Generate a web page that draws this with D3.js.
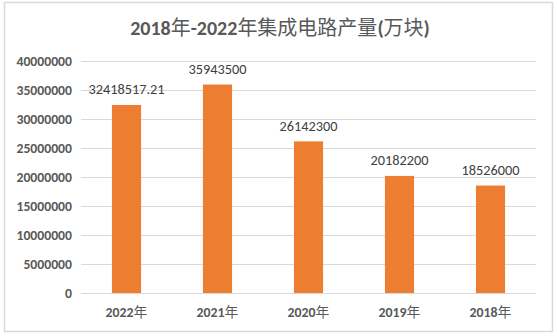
<!DOCTYPE html>
<html>
<head>
<meta charset="utf-8">
<script src="https://cdn.jsdelivr.net/npm/d3@7"></script>
<style>
  html, body { margin: 0; padding: 0; background: #ffffff; }
  svg { display: block; }
</style>
</head>
<body>
<svg id="chart" width="557" height="336"></svg>
<script>
// 集成电路产量 (万块), 2022 → 2018
const years = ["2022年", "2021年", "2020年", "2019年", "2018年"];
const output = [32418517.21, 35943500, 26142300, 20182200, 18526000];
const valueLabels = ["32418517.21", "35943500", "26142300", "20182200", "18526000"];
const yTicks = [0, 5000000, 10000000, 15000000, 20000000, 25000000, 30000000, 35000000, 40000000];
const titleText = "2018年-2022年集成电路产量(万块)";

const W = 557, H = 336;
const margin = { left: 81, right: 21, top: 61, bottom: 43 };
const svg = d3.select("#chart");
const fontStack = "Calibri, Carlito, 'Noto Sans CJK SC', 'Noto Sans', sans-serif";

// Latin runs bold, Han characters at regular weight
function mixedRuns(sel, str) {
  sel.text(null);
  const runs = str.match(/[\u4e00-\u9fff]+|[^\u4e00-\u9fff]+/g) || [];
  runs.forEach(r => {
    sel.append("tspan")
      .style("font-weight", /[\u4e00-\u9fff]/.test(r) ? "normal" : "bold")
      .text(r);
  });
}

// outer chart frame
svg.append("rect")
  .attr("x", 4.5).attr("y", 2.5)
  .attr("width", 548).attr("height", 329)
  .attr("fill", "#ffffff")
  .attr("stroke", "#d9d9d9")
  .attr("stroke-width", 1.5);

const x = d3.scaleBand()
  .domain(years)
  .range([margin.left, W - margin.right])
  .paddingInner(0.68)
  .paddingOuter(0.34);

const y = d3.scaleLinear()
  .domain([0, 40000000])
  .range([H - margin.bottom, margin.top]);

// horizontal gridlines
svg.append("g")
  .selectAll("line")
  .data(yTicks)
  .join("line")
  .attr("x1", margin.left)
  .attr("x2", W - margin.right)
  .attr("y1", d => Math.round(y(d)) + 0.5)
  .attr("y2", d => Math.round(y(d)) + 0.5)
  .attr("stroke", "#d9d9d9")
  .attr("stroke-width", 1);

// y axis labels
const yAxis = d3.axisLeft(y)
  .tickValues(yTicks)
  .tickFormat(d => String(d))
  .tickSize(0)
  .tickPadding(9);
const gy = svg.append("g")
  .attr("transform", `translate(${margin.left},0)`)
  .call(yAxis);
gy.select(".domain").remove();
gy.selectAll("text")
  .attr("fill", "#595959")
  .style("font-family", fontStack)
  .style("font-size", "13.7px")
  .style("font-weight", "bold");

// bars
svg.append("g")
  .selectAll("rect")
  .data(output)
  .join("rect")
  .attr("x", (d, i) => x(years[i]))
  .attr("y", d => y(d))
  .attr("width", x.bandwidth())
  .attr("height", d => y(0) - y(d))
  .attr("fill", "#ed7d31");

// value labels above bars
svg.append("g")
  .selectAll("text")
  .data(output)
  .join("text")
  .attr("x", (d, i) => x(years[i]) + x.bandwidth() / 2)
  .attr("y", d => y(d) - 10.5)
  .attr("text-anchor", "middle")
  .attr("fill", "#404040")
  .style("font-family", fontStack)
  .style("font-size", "14.3px")
  .text((d, i) => valueLabels[i]);

// x axis category labels
const xAxis = d3.axisBottom(x).tickSize(0);
const gx = svg.append("g")
  .attr("transform", `translate(0,${y(0)})`)
  .call(xAxis);
gx.select(".domain").remove();
gx.selectAll("text")
  .attr("y", 24)
  .attr("dy", null)
  .attr("fill", "#595959")
  .style("font-family", fontStack)
  .style("font-size", "13.8px")
  .each(function (d) { mixedRuns(d3.select(this), d); });

// title
svg.append("text")
  .attr("x", 280)
  .attr("y", 35)
  .attr("text-anchor", "middle")
  .attr("fill", "#595959")
  .style("font-family", fontStack)
  .style("font-size", "20px")
  .call(mixedRuns, titleText);
</script>
</body>
</html>
